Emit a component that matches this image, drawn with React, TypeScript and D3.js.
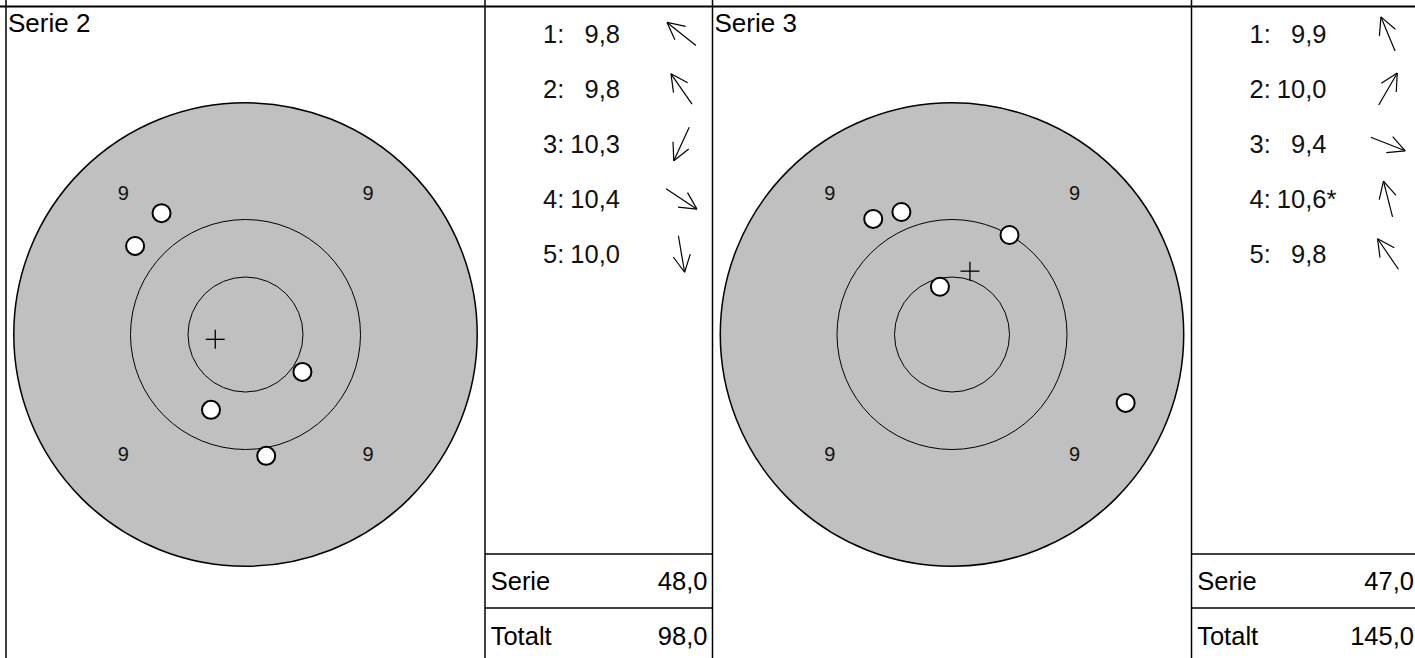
import React from "react";
import * as d3 from "d3";

// ---------- data ----------
const seriesNames = ["Serie 2", "Serie 3"];
// shot offsets from target centre (ring units, y up)
const shotsX2 = [-1.92, -1.46, -0.60, 0.99, 0.36];
const shotsY2 = [1.54, 2.11, -1.31, -0.65, -2.11];
const shotsX3 = [-0.88, 1.0, 3.02, -0.21, -1.37];
const shotsY3 = [2.13, 1.73, -1.19, 0.83, 2.01];
const scores2 = [9.8, 9.8, 10.3, 10.4, 10.0];
const scores3 = [9.9, 10.0, 9.4, 10.6, 9.8];
const innerTen2 = [false, false, false, false, false];
const innerTen3 = [false, false, false, true, false];
const totals = [98.0, 145.0];
const ringRadii = [1, 2, 4.03];
const ringLabels = ["9", "9", "9", "9"];

const W = 1415;
const H = 658;
const panelW = 706.5;
const targetW = 479;
const cx0 = 245.5;
const cy0 = 334.5;
const unit = 57.5;

const fmt = (v: number) => d3.format(".1f")(v).replace(".", ",");

const FONT = "'Liberation Sans', Arial, Helvetica, sans-serif";

type PanelProps = {
  x0: number;
  name: string;
  xs: number[];
  ys: number[];
  scores: number[];
  inner: boolean[];
  total: number;
};

function Panel({ x0, name, xs, ys, scores, inner, total }: PanelProps) {
  const cx = x0 + cx0 - 6;
  const sx = d3.scaleLinear().domain([-1, 1]).range([cx - unit, cx + unit]);
  const sy = d3.scaleLinear().domain([-1, 1]).range([cy0 + unit, cy0 - unit]);
  const r = (v: number) => sx(v) - sx(0);
  const mx = d3.mean(xs) as number;
  const my = d3.mean(ys) as number;
  const colX = x0 + targetW;
  const colR = x0 + panelW;
  const rowY = (i: number) => 43 + i * 55;
  const serieSum = d3.sum(scores, (s) => Math.floor(s));
  const arrowCx = colX + 196.5;
  const shaft = 37;
  const barb = 19;
  const barbAng = (27 * Math.PI) / 180;

  return (
    <g>
      <text x={x0 + 2} y={31.5} fontSize={26} fontFamily={FONT}>
        {name}
      </text>
      {/* target */}
      <circle cx={sx(0)} cy={sy(0)} r={r(ringRadii[2])} fill="#c0c0c0" stroke="#000" strokeWidth={1.5} />
      {ringRadii.slice(0, 2).map((rr, i) => (
        <circle key={i} cx={sx(0)} cy={sy(0)} r={r(rr)} fill="none" stroke="#000" strokeWidth={1} />
      ))}
      {[
        [-122.3, -135],
        [122.5, -135],
        [-122.3, 126.5],
        [122.5, 126.5],
      ].map(([dx, dy], i) => (
        <text
          key={i}
          x={sx(0) + dx}
          y={sy(0) + dy}
          fontSize={20}
          fontFamily={FONT}
          textAnchor="middle"
          fill="#111"
        >
          {ringLabels[i]}
        </text>
      ))}
      {/* mean cross */}
      <g stroke="#000" strokeWidth={1.3}>
        <line x1={sx(mx) - 9.5} x2={sx(mx) + 9.5} y1={sy(my)} y2={sy(my)} />
        <line x1={sx(mx)} x2={sx(mx)} y1={sy(my) - 9.5} y2={sy(my) + 9.5} />
      </g>
      {/* shots */}
      {xs.map((x, i) => (
        <circle key={i} cx={sx(x)} cy={sy(ys[i])} r={9} fill="#fff" stroke="#000" strokeWidth={2} />
      ))}
      {/* score rows */}
      {scores.map((s, i) => {
        const dx = sx(xs[i]) - sx(0);
        const dy = sy(ys[i]) - sy(0);
        const len = Math.hypot(dx, dy);
        const ux = dx / len;
        const uy = dy / len;
        const acy = rowY(i) - 9;
        const hx = arrowCx + (ux * shaft) / 2;
        const hy = acy + (uy * shaft) / 2;
        const tx = arrowCx - (ux * shaft) / 2;
        const ty = acy - (uy * shaft) / 2;
        const back = Math.atan2(-uy, -ux);
        const b1x = hx + barb * Math.cos(back + barbAng);
        const b1y = hy + barb * Math.sin(back + barbAng);
        const b2x = hx + barb * Math.cos(back - barbAng);
        const b2y = hy + barb * Math.sin(back - barbAng);
        return (
          <g key={i}>
            <text x={colX + 58} y={rowY(i)} fontSize={25.5} fontFamily={FONT} fill="#111">
              {`${i + 1}:`}
            </text>
            <text x={colX + 135} y={rowY(i)} fontSize={25.5} fontFamily={FONT} textAnchor="end" fill="#111">
              {fmt(s)}
            </text>
            {inner[i] && (
              <text x={colX + 135} y={rowY(i)} fontSize={25.5} fontFamily={FONT} fill="#111">
                *
              </text>
            )}
            <g stroke="#000" strokeWidth={1.2} fill="none">
              <line x1={tx} y1={ty} x2={hx} y2={hy} />
              <line x1={hx} y1={hy} x2={b1x} y2={b1y} />
              <line x1={hx} y1={hy} x2={b2x} y2={b2y} />
            </g>
          </g>
        );
      })}
      {/* summary */}
      <line x1={colX} x2={colR} y1={554} y2={554} stroke="#000" strokeWidth={1.5} />
      <line x1={colX} x2={colR} y1={608} y2={608} stroke="#000" strokeWidth={1.5} />
      <text x={colX + 5.7} y={590} fontSize={25.5} fontFamily={FONT}>
        Serie
      </text>
      <text x={colR - 5} y={590} fontSize={25.5} fontFamily={FONT} textAnchor="end">
        {fmt(serieSum)}
      </text>
      <text x={colX + 5.7} y={645} fontSize={25.5} fontFamily={FONT}>
        Totalt
      </text>
      <text x={colR - 5} y={645} fontSize={25.5} fontFamily={FONT} textAnchor="end">
        {fmt(total)}
      </text>
      {/* grid verticals */}
      <line x1={x0} x2={x0} y1={0} y2={H} stroke="#000" strokeWidth={1.5} />
      <line x1={colX} x2={colX} y1={0} y2={H} stroke="#000" strokeWidth={1.5} />
    </g>
  );
}

export default function App() {
  const panels = [
    { xs: shotsX2, ys: shotsY2, scores: scores2, inner: innerTen2 },
    { xs: shotsX3, ys: shotsY3, scores: scores3, inner: innerTen3 },
  ];
  return (
    <svg
      width={W}
      height={H}
      style={{ position: "absolute", left: 0, top: 0, background: "#fff" }}
    >
      <rect x={0} y={0} width={W} height={H} fill="#fff" />
      {panels.map((p, i) => (
        <Panel
          key={i}
          x0={6 + i * panelW}
          name={seriesNames[i]}
          xs={p.xs}
          ys={p.ys}
          scores={p.scores}
          inner={p.inner}
          total={totals[i]}
        />
      ))}
      <line x1={0} x2={W} y1={6.5} y2={6.5} stroke="#000" strokeWidth={1.8} />
    </svg>
  );
}
